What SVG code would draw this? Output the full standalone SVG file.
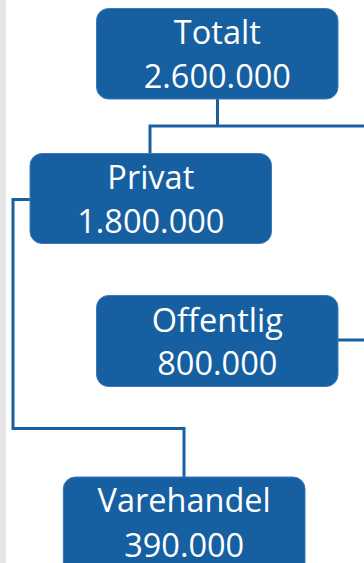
<svg xmlns="http://www.w3.org/2000/svg" width="364" height="563" viewBox="0 0 364 563">
<style>
.box{fill:#1660a2;stroke:#3f7ab5;stroke-width:1}
.t{font-family:"Open Sans","Noto Sans",sans-serif;font-size:32.5px;fill:#ffffff;text-anchor:middle}
.c{fill:none;stroke:#1a5f9f;stroke-width:3}
</style>
<rect x="0" y="0" width="364" height="563" fill="#ffffff"/>
<rect x="0" y="0" width="6" height="563" fill="#e6e6e6"/>
<g id="connectors">
<polyline class="c" points="217.5,99 217.5,126"/>
<polyline class="c" points="150,153 150,126 364,126"/>
<polyline class="c" points="30,199.5 13,199.5 13,428.5 184,428.5 184,477"/>
<polyline class="c" points="338,340 364,340"/>
</g>
<g id="totalt">
<rect class="box" x="96.5" y="8.5" width="241.5" height="90.5" rx="12"/>
<text class="t" x="217.3" y="44">Totalt</text>
<text class="t" x="217.3" y="88.3">2.600.000</text>
</g>
<g id="privat">
<rect class="box" x="30" y="153.5" width="241.5" height="90" rx="12"/>
<text class="t" x="150.8" y="189.3">Privat</text>
<text class="t" x="150.8" y="232.7">1.800.000</text>
</g>
<g id="offentlig">
<rect class="box" x="96.5" y="295.5" width="241.5" height="91" rx="12"/>
<text class="t" x="217.3" y="331.7">Offentlig</text>
<text class="t" x="217.3" y="375">800.000</text>
</g>
<g id="varehandel">
<rect class="box" x="63.3" y="477" width="241.7" height="100" rx="12"/>
<text class="t" x="184.2" y="512.3">Varehandel</text>
<text class="t" x="184.2" y="556.7">390.000</text>
</g>
</svg>
